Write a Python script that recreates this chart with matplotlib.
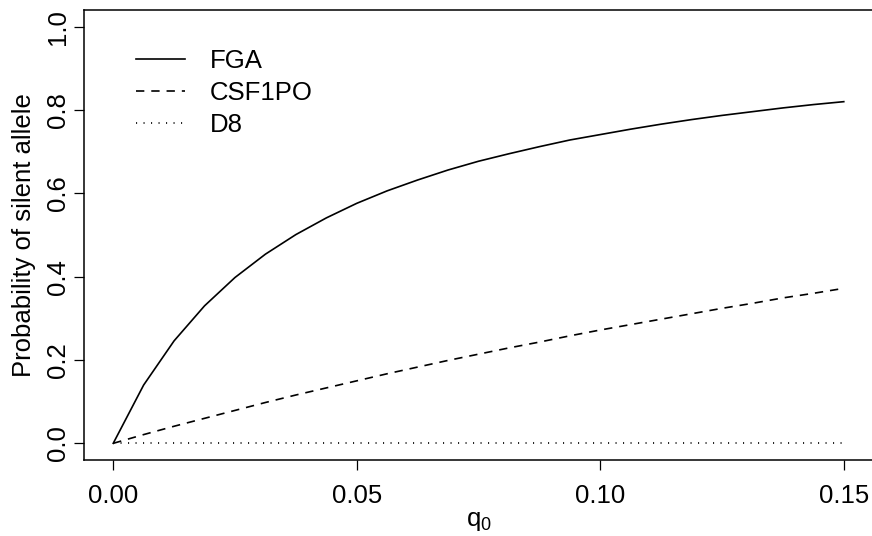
import matplotlib

matplotlib.use("Agg")
import matplotlib.pyplot as plt

plt.rcParams["font.family"] = ["Liberation Sans", "DejaVu Sans"]
plt.rcParams["mathtext.fontset"] = "custom"
plt.rcParams["mathtext.rm"] = "Liberation Sans"
plt.rcParams["mathtext.it"] = "Liberation Sans"
plt.rcParams["lines.scale_dashes"] = False

# frequency of the silent allele, 25 grid points
q0 = [0.0, 0.00625, 0.0125, 0.01875, 0.025, 0.03125, 0.0375, 0.04375, 0.05,
      0.05625, 0.0625, 0.06875, 0.075, 0.08125, 0.0875, 0.09375, 0.1,
      0.10625, 0.1125, 0.11875, 0.125, 0.13125, 0.1375, 0.14375, 0.15]

fga = [0.0, 0.140, 0.246, 0.330, 0.398, 0.454, 0.501, 0.541, 0.576,
       0.606, 0.632, 0.656, 0.677, 0.695, 0.712, 0.728, 0.741,
       0.754, 0.766, 0.777, 0.787, 0.796, 0.805, 0.813, 0.820]

csf1po = [0.0, 0.021, 0.041, 0.060, 0.079, 0.098, 0.116, 0.133, 0.150,
          0.167, 0.183, 0.199, 0.214, 0.229, 0.243, 0.258, 0.272,
          0.285, 0.298, 0.311, 0.324, 0.336, 0.349, 0.360, 0.372]

d8 = [0.0] * len(q0)

labels = ["FGA", "CSF1PO", "D8"]
xticks = [0.00, 0.05, 0.10, 0.15]
yticks = [0.0, 0.2, 0.4, 0.6, 0.8, 1.0]

FS = 18.5

fig = plt.figure(figsize=(8.72, 5.36), dpi=100)
ax = fig.add_axes([84 / 872, 76 / 536, 789 / 872, 450 / 536])

ax.plot(q0, fga, color="black", lw=1.2, label=labels[0])
ax.plot(q0, csf1po, color="black", lw=1.2, ls=(0, (6.0, 5.0)), label=labels[1])
ax.plot(q0, d8, color="black", lw=1.2, ls=(0, (0.8, 4.6)), label=labels[2])

# R-style 4% padding around the data range
ax.set_xlim(-0.006, 0.156)
ax.set_ylim(-0.04, 1.04)

ax.set_xticks(xticks)
ax.set_xticklabels([f"{v:.2f}" for v in xticks])
ax.set_yticks(yticks)
ax.set_yticklabels([f"{v:.1f}" for v in yticks], rotation=90, va="center")
ax.tick_params(axis="both", labelsize=FS, length=7.2, width=0.9, color="black")
ax.tick_params(axis="x", pad=10)
ax.tick_params(axis="y", pad=3)

for s in ax.spines.values():
    s.set_linewidth(1.1)
# box runs just past the right edge of the canvas
ax.spines["right"].set_visible(False)

ax.set_xlabel(r"q$_0$", fontsize=FS, labelpad=1)
ax.set_ylabel("Probability of silent allele", fontsize=FS, labelpad=7)

ax.legend(loc="upper left", bbox_to_anchor=(0.0665, 0.913), frameon=False,
          fontsize=FS, handlelength=1.9, handletextpad=0.95, labelspacing=0.3,
          borderaxespad=0, borderpad=0)

fig.savefig("out.png", dpi=100)
